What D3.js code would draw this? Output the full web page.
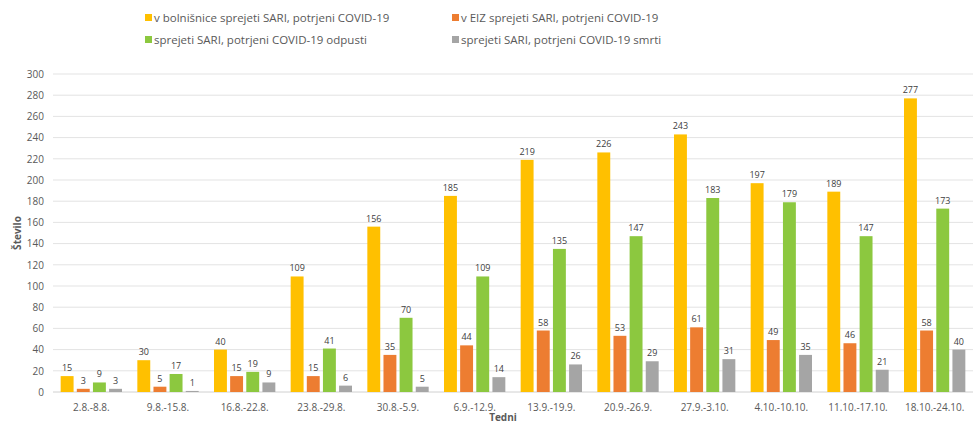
<!DOCTYPE html>
<html>
<head>
<meta charset="utf-8">
<script src="https://cdn.jsdelivr.net/npm/d3@7"></script>
<style>
  body { margin: 0; background: #fff; }
  text { font-family: "Open Sans", "Noto Sans", sans-serif; fill: #595959; }
</style>
</head>
<body>
<svg id="vis"></svg>
<script>
const svg = d3.select("#vis").attr("width", 973).attr("height", 425);

const weeks = ["2.8.-8.8.", "9.8.-15.8.", "16.8.-22.8.", "23.8.-29.8.", "30.8.-5.9.", "6.9.-12.9.",
    "13.9.-19.9.", "20.9.-26.9.", "27.9.-3.10.", "4.10.-10.10.", "11.10.-17.10.", "18.10.-24.10."];
const seriesNames = ["v bolnišnice sprejeti SARI, potrjeni COVID-19", "v EIZ sprejeti SARI, potrjeni COVID-19",
    "sprejeti SARI, potrjeni COVID-19 odpusti", "sprejeti SARI, potrjeni COVID-19 smrti"];
const hospital = [15, 30, 40, 109, 156, 185, 219, 226, 243, 197, 189, 277];
const icu = [3, 5, 15, 15, 35, 44, 58, 53, 61, 49, 46, 58];
const discharged = [9, 17, 19, 41, 70, 109, 135, 147, 183, 179, 147, 173];
const deaths = [3, 1, 9, 6, 5, 14, 26, 29, 31, 35, 21, 40];
const yTicks = d3.range(0, 301, 20);

const COLORS = ["#FFC000", "#ED7D31", "#8CC83F", "#A5A5A5"];
const allSeries = [hospital, icu, discharged, deaths];

const PLOT_LEFT = 53, PLOT_RIGHT = 973, PLOT_TOP = 74, PLOT_BOTTOM = 392;

let xscale = d3.scaleBand().domain(weeks).range([PLOT_LEFT, PLOT_RIGHT]).paddingInner(0.2).paddingOuter(0.1);
let xsub = d3.scaleBand().domain(d3.range(4)).range([0, xscale.bandwidth()]).paddingInner(0.2);
let yscale = d3.scaleLinear().domain([0, 300]).range([PLOT_BOTTOM, PLOT_TOP]);

function main() {
    drawGrid();
    drawBars();
    drawAxes();
    drawLegend();
}

function drawGrid() {
    svg.append("g").selectAll("line").data(yTicks).join("line")
        .attr("x1", PLOT_LEFT).attr("x2", PLOT_RIGHT)
        .attr("y1", d => yscale(d)).attr("y2", d => yscale(d))
        .attr("stroke", d => d === 0 ? "#d0d0d0" : "#e3e3e3")
        .attr("stroke-width", 1);
}

function drawBars() {
    const rows = [];
    weeks.forEach((w, i) => allSeries.forEach((s, k) => rows.push({week: w, k: k, v: s[i]})));

    const g = svg.append("g");
    g.selectAll("rect").data(rows).join("rect")
        .attr("x", d => xscale(d.week) + xsub(d.k))
        .attr("width", xsub.bandwidth())
        .attr("y", d => yscale(d.v))
        .attr("height", d => yscale(0) - yscale(d.v))
        .attr("fill", d => COLORS[d.k]);

    g.selectAll("text").data(rows).join("text")
        .attr("x", d => xscale(d.week) + xsub(d.k) + xsub.bandwidth() / 2)
        .attr("y", d => yscale(d.v) - 5)
        .attr("text-anchor", "middle")
        .style("font-size", "9px")
        .style("fill", "#404040")
        .text(d => d.v);
}

function drawAxes() {
    const yAxis = svg.append("g").attr("transform", `translate(${PLOT_LEFT - 6},0)`)
        .call(d3.axisLeft(yscale).tickValues(yTicks).tickSize(0));
    yAxis.select(".domain").remove();
    yAxis.selectAll("text").style("font-size", "10px").style("font-family", "'Open Sans', sans-serif").attr("fill", "#595959");

    const xAxis = svg.append("g").attr("transform", `translate(0,${PLOT_BOTTOM + 9})`)
        .call(d3.axisBottom(xscale).tickSize(0));
    xAxis.select(".domain").remove();
    xAxis.selectAll("text").style("font-size", "10px").style("font-family", "'Open Sans', sans-serif").attr("fill", "#595959");

    svg.append("text")
        .attr("transform", "translate(21,233) rotate(-90)")
        .attr("text-anchor", "middle")
        .style("font-size", "10px").style("font-weight", "bold")
        .text("Število");

    svg.append("text")
        .attr("x", 503).attr("y", 421)
        .attr("text-anchor", "middle")
        .style("font-size", "10px").style("font-weight", "bold")
        .text("Tedni");
}

function drawLegend() {
    const pos = [[145, 18], [452, 18], [145, 40], [452, 40]];
    const g = svg.append("g");
    seriesNames.forEach((name, k) => {
        g.append("rect").attr("x", pos[k][0]).attr("y", pos[k][1] - 4)
            .attr("width", 7).attr("height", 7).attr("fill", COLORS[k]);
        g.append("text").attr("x", pos[k][0] + 9).attr("y", pos[k][1] + 3.5)
            .style("font-size", "11.5px")
            .text(name);
    });
}

main();
</script>
</body>
</html>
